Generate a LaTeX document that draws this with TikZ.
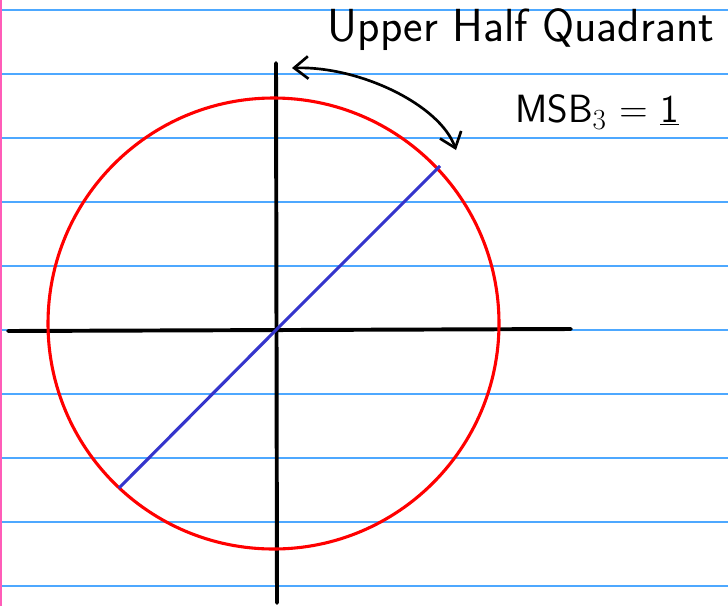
\documentclass[tikz,border=0pt]{standalone}
\usepackage{tikz}
\usetikzlibrary{arrows.meta, calc}
\definecolor{ruleblue}{HTML}{4DA8FF}
\definecolor{marginpink}{HTML}{FF5CB8}
\definecolor{penred}{HTML}{FF0000}
\definecolor{penblue}{HTML}{3535CC}

\begin{document}
\begin{tikzpicture}[
    x=0.025cm, y=-0.025cm,
    rule/.style={ruleblue, line width=0.9pt},
    axis/.style={black, line width=2.8pt, line cap=round},
    penarrow/.style={black, line width=1.9pt, {Straight Barb[length=10pt, width=16pt]}-{Straight Barb[length=10pt, width=16pt]}},
    hand/.style={font=\sffamily\fontsize{33}{40}\selectfont, inner sep=0pt}
  ]
  \useasboundingbox[fill=white] (0,0) rectangle (728,606);

  % Paper
  \foreach \y in {10,74,...,586}
    \draw[rule] (0,\y) -- (728,\y);
  \draw[marginpink, line width=1.6pt] (1,0) -- (1,606);

  % Axes
  \coordinate (origin) at (276,330);
  \draw[axis] (8,331) -- (571,329);
  \draw[axis] (276,63) -- (277,603);

  % Circle and diameter
  \draw[penred, line width=2.2pt] (273.5,323.5) circle[radius=225.5];
  \coordinate (lowpt) at (119,488);
  \coordinate (highpt) at (440,166);
  \draw[penblue, line width=2.2pt] (lowpt) -- (origin) -- (highpt);

  % Labels
  \node[hand] (title) at (521,30) {Upper Half Quadrant};
  \node[hand, font=\sffamily\fontsize{28}{34}\selectfont] (msb) at (597,112) {MSB$_3$ = \underline{1}};

  % Arrow
  \coordinate (arcleft) at (292,68);
  \coordinate (arcright) at (456,150);
  \draw[penarrow] (arcleft) .. controls (360,66) and (440,105) .. (arcright);
\end{tikzpicture}
\end{document}
